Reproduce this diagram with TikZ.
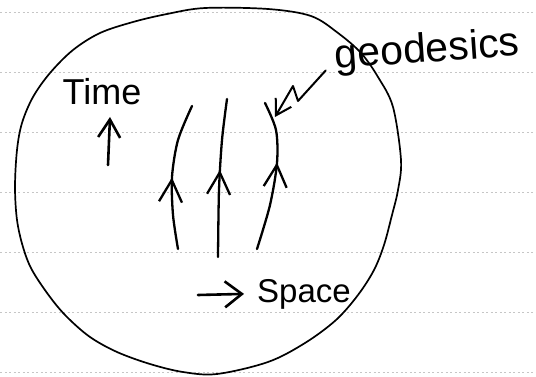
\documentclass[tikz,border=0pt]{standalone}
\usepackage{fontspec}
\setmainfont{Liberation Sans}
\usetikzlibrary{arrows.meta, decorations.markings}

\tikzset{
  ruled/.style={gray!45, line width=0.6pt, dash pattern=on 2pt off 2.5pt},
  blob/.style={line width=1.7pt, line join=round},
  geoline/.style={line width=2.3pt, line cap=round, line join=round},
  hand/.style={inner sep=0pt, anchor=base},
  midtip/.style={postaction={decorate, decoration={markings,
      mark=at position #1 with {\arrow{Straight Barb[length=22pt,width=23pt]}}}}}
}

\begin{document}
\begin{tikzpicture}[x=1pt,y=-1pt,>={Straight Barb[length=18pt,width=22pt]}]
  \useasboundingbox (0,0) rectangle (536,377);
  % ruled paper
  \foreach \ry in {12,72,...,372}
    \draw[ruled] (0,\ry) -- (536,\ry);
  % the region of spacetime
  \draw[blob] plot[smooth cycle, tension=0.55] coordinates {
    (205,8) (268,9) (311,16) (338,33) (361,53) (378,77) (393,107)
    (401,160) (398,190) (392,215) (384,245) (374,270) (358,295)
    (336,320) (305,343) (268,362) (217,374) (183,372) (150,364)
    (117,352) (90,337) (67,317) (50,297) (32,270) (23,247) (17,220)
    (15,187) (17,150) (22,123) (33,97) (50,73) (73,50) (100,33)
    (133,22) (167,14)};

  % labels
  \node[hand, font=\fontsize{36}{40}\selectfont] (time) at (102,105) {Time};
  \node[hand, font=\fontsize{41}{46}\selectfont, rotate=4] (geo) at (428,62) {geodesics};
  \node[hand, font=\fontsize{33}{38}\selectfont] (space) at (304,302) {Space};

  % axes
  \coordinate (t-tail) at (108,165);
  \coordinate (t-head) at (110,117);
  \draw[geoline, line width=2.6pt, ->] (t-tail) -- (t-head);
  \coordinate (s-tail) at (198,295);
  \draw[geoline, line width=2.6pt, -{Straight Barb[length=17pt,width=26pt]}]
    (s-tail) -- ([xshift=-13pt]space.west);

  % geodesics
  \draw[geoline, midtip=0.49] plot[smooth] coordinates
    {(178,249) (173,215) (172,177) (178,140) (192,106)};
  \draw[geoline, midtip=0.55] plot[smooth] coordinates
    {(218,257) (219,190) (222,140) (227,99)};
  \draw[geoline, midtip=0.59] plot[smooth] coordinates
    {(257,249) (270,205) (277,163) (276,130) (265,103)};

  % pointer to the geodesics
  \coordinate (gtip) at (275,117);
  \draw[geoline, line width=2pt, -{Straight Barb[length=15pt,width=18pt]}]
    ([shift={(-10,2)}]geo.base west) -- (298,101) -- (293,86) -- (gtip);
\end{tikzpicture}
\end{document}
